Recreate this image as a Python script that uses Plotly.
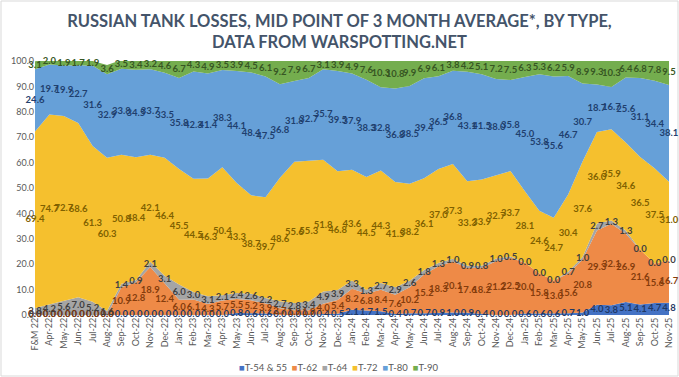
import plotly.graph_objects as go

categories = ["F&M 22", "Apr-22", "May-22", "Jun-22", "Jul-22", "Aug-22", "Sep-22", "Oct-22", "Nov-22", "Dec-22",
              "Jan-23", "Feb-23", "Mar-23", "Apr-23", "May-23", "Jun-23", "Jul-23", "Aug-23", "Sep-23", "Oct-23",
              "Nov-23", "Dec-23", "Jan-24", "Feb-24", "Mar-24", "Apr-24", "May-24", "Jun-24", "Jul-24", "Aug-24",
              "Sep-24", "Oct-24", "Nov-24", "Dec-24", "Jan-25", "Feb-25", "Mar-25", "Apr-25", "May-25", "Jun-25",
              "Jul-25", "Aug-25", "Sep-25", "Oct-25", "Nov-25"]

t54_55 = [0.0, 0.0, 0.0, 0.0, 0.0, 0.0, 0.0, 0.0, 0.0, 0.0,
          0.0, 0.0, 0.0, 0.0, 0.8, 0.6, 0.6, 0.0, 0.0, 0.0,
          0.4, 0.5, 2.1, 1.7, 1.5, 0.4, 0.7, 0.7, 0.9, 1.0,
          0.9, 0.4, 0.0, 0.0, 0.6, 0.6, 0.6, 0.7, 1.0, 4.0,
          3.8, 5.1, 4.1, 4.7, 4.8]
t62 = [0.0, 0.0, 0.0, 0.0, 0.0, 0.0, 10.9, 12.8, 18.9, 12.4,
       6.0, 6.1, 4.3, 5.7, 5.5, 5.2, 3.9, 2.7, 1.9, 1.9,
       4.0, 5.4, 8.2, 6.8, 8.4, 7.6, 10.2, 15.2, 18.3, 20.1,
       17.6, 18.2, 21.2, 22.5, 20.0, 15.8, 13.0, 15.6, 20.8, 29.3,
       32.1, 26.9, 21.6, 15.6, 16.7]
t64 = [2.8, 4.2, 5.6, 7.0, 5.2, 1.6, 1.4, 0.9, 2.1, 3.1,
       6.0, 3.0, 3.1, 2.1, 2.4, 2.6, 2.2, 2.7, 2.8, 3.4,
       4.9, 3.9, 3.3, 1.3, 2.7, 2.9, 2.6, 1.8, 1.3, 1.0,
       0.9, 0.8, 1.0, 0.5, 0.0, 0.0, 0.0, 0.7, 1.0, 2.7,
       1.3, 1.3, 0.0, 0.0, 0.0]
t72 = [69.4, 74.7, 72.7, 68.6, 61.3, 60.3, 50.8, 48.4, 42.1, 46.4,
       45.5, 44.5, 46.3, 50.4, 43.3, 38.7, 39.7, 48.6, 55.6, 55.3,
       51.8, 46.8, 43.6, 44.5, 44.3, 41.5, 38.2, 36.1, 37.0, 37.3,
       33.3, 33.9, 32.7, 33.7, 28.1, 24.6, 24.7, 30.4, 37.6, 36.0,
       35.9, 34.6, 36.5, 37.5, 31.0]
t80 = [24.6, 19.7, 19.9, 22.7, 31.6, 32.9, 33.8, 34.5, 33.7, 33.5,
       35.8, 42.3, 41.4, 38.3, 44.1, 48.4, 47.5, 36.8, 31.8, 32.7,
       35.7, 39.5, 37.9, 38.3, 32.8, 36.8, 38.5, 39.4, 36.5, 36.8,
       43.1, 41.5, 38.0, 35.8, 45.0, 53.8, 55.6, 46.7, 30.7, 18.7,
       16.7, 25.6, 31.1, 34.4, 38.1]
t90 = [3.1, 2.0, 1.9, 1.7, 1.9, 3.6, 3.5, 3.4, 3.2, 4.6,
       6.7, 4.3, 4.9, 3.5, 3.9, 4.5, 6.1, 9.2, 7.9, 6.7,
       3.1, 3.9, 4.9, 7.6, 10.3, 10.8, 9.9, 6.9, 6.1, 3.8,
       4.2, 5.1, 7.2, 7.5, 6.3, 5.3, 6.2, 5.9, 8.9, 9.3,
       10.3, 6.4, 6.8, 7.8, 9.5]

series = [
    ("T-54 & 55", t54_55, "#4472C4", "#1F3864"),
    ("T-62", t62, "#EE8A47", "#843C0C"),
    ("T-64", t64, "#A5A5A5", "#3F3F3F"),
    ("T-72", t72, "#F5C02E", "#7F6000"),
    ("T-80", t80, "#66A0D8", "#1F3F6E"),
    ("T-90", t90, "#74AD4E", "#375623"),
]

FONT = "Lato, Open Sans, sans-serif"

fig = go.Figure()
for name, vals, color, _ in series:
    fig.add_trace(go.Scatter(
        x=categories, y=vals, name=name, stackgroup="one", mode="lines",
        line=dict(width=0, color=color), fillcolor=color,
        hoverinfo="skip", showlegend=False))

# data labels at the middle of each band
base = [0.0] * len(categories)
for name, vals, color, tcolor in series:
    mids = [b + v / 2 for b, v in zip(base, vals)]
    base = [b + v for b, v in zip(base, vals)]
    fig.add_trace(go.Scatter(
        x=categories, y=mids, mode="text", text=[f"{v:.1f}" for v in vals],
        textposition="middle center", showlegend=False, hoverinfo="skip", cliponaxis=False,
        textfont=dict(family=FONT, size=9.5, color=tcolor, weight="bold")))

W, H = 679, 377
L, R, T, B = 35, 10, 61, 62
pw, ph = W - L - R, H - T - B

legend_text = "&nbsp;&nbsp;".join(
    f'<span style="color:{c}">■</span>{n}' for n, _, c, _ in series)

fig.update_layout(
    width=W, height=H,
    margin=dict(l=L, r=R, t=T, b=B, autoexpand=False),
    paper_bgcolor="white", plot_bgcolor="white",
    title=dict(text="RUSSIAN TANK LOSSES, MID POINT OF 3 MONTH AVERAGE*, BY TYPE,<br>DATA FROM WARSPOTTING.NET",
               x=0.5, xref="container", xanchor="center",
               y=1 - 27 / H, yref="container", yanchor="middle",
               font=dict(family=FONT, size=16.5, color="#44546A", weight="bold")),
    showlegend=False,
    xaxis=dict(type="category", range=[0, len(categories) - 1], tickangle=-90, automargin=False,
               tickfont=dict(family=FONT, size=9, color="#595959"),
               showgrid=False, showline=False, ticks="", zeroline=False),
    yaxis=dict(range=[0, 100], dtick=10, tickformat=".1f", automargin=False,
               tickfont=dict(family=FONT, size=9, color="#595959"),
               showgrid=True, gridcolor="#D9D9D9", zeroline=False, showline=False, ticks=""),
    annotations=[dict(text=legend_text, xref="paper", yref="paper",
                      x=(338 - L) / pw, y=-(367 - H + B) / ph, xanchor="center", yanchor="middle",
                      showarrow=False, font=dict(family=FONT, size=9.5, color="#595959"))],
    shapes=[dict(type="rect", xref="paper", yref="paper",
                 x0=-(L - 1) / pw, x1=1 + (R - 1) / pw,
                 y0=-(B - 1) / ph, y1=1 + (T - 1) / ph,
                 line=dict(color="#D9D9D9", width=1), fillcolor="rgba(0,0,0,0)", layer="below")],
)

fig.write_html("out.html", config={"displayModeBar": False},
               post_script="document.body.style.margin='0';")
